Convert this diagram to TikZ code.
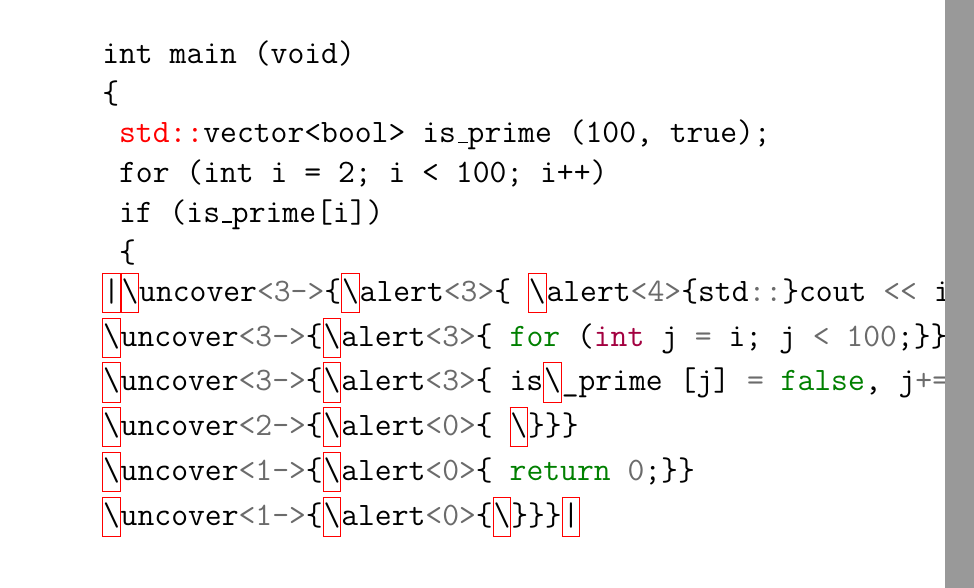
\documentclass[tikz,border=0pt]{standalone}
\definecolor{cgray}{gray}{0.42}
\definecolor{cgreen}{rgb}{0,0.5,0}
\definecolor{cint}{rgb}{0.64,0,0.25}
\definecolor{barg}{gray}{0.6}
\newcommand\bs{\textbackslash}
\newcommand\rb[1]{{\fboxsep=0pt\fboxrule=0.4pt\color{red}\fbox{\color{black}\vrule width0pt height13.8pt depth5.4pt\relax#1}}}
\newcommand\gr[1]{\textcolor{cgray}{#1}}
\newcommand\gn[1]{\textcolor{cgreen}{#1}}
\newcommand\kw[1]{\textcolor{cint}{#1}}
\newcommand\us{\kern0.06em\vrule width0.3em height0.5pt depth0.3pt\relax}
\newlength\cwtest
\begin{document}
\settowidth\cwtest{\fontsize{16pt}{19pt}\ttfamily\selectfont M}%
\pgfmathsetmacro\fsz{16*8.42/\cwtest}%
\newcommand\codefont{\fontsize{\fsz pt}{19pt}\ttfamily\selectfont}%
\begin{tikzpicture}[x=0.5pt,y=-0.5pt,
  codeline/.style={anchor=base west,inner sep=0pt,outer sep=0pt,font=\codefont}]
\fill[white] (0,0) rectangle (974,588);
\useasboundingbox (0,0) rectangle (974,588);
\node[codeline] (l1) at (102.3,63.3) {int main (void)};
\node[codeline] (l2) at (102.3,103.1) {\{};
\node[codeline] (l3) at (102.3,142.9) {\ \textcolor{red}{std::}vector<bool> is\us prime (100, true);};
\node[codeline] (l4) at (102.3,182.7) {\ for (int i = 2; i < 100; i++)};
\node[codeline] (l5) at (102.3,222.5) {\ if (is\us prime[i])};
\node[codeline] (l6) at (102.3,262.3) {\ \{};
\node[codeline] (l7) at (102.3,301.7) {\rb{|}\rb{\bs}uncover\gr{<3->}\{\rb{\bs}alert\gr{<3>}\{ \rb{\bs}alert\gr{<4>}\{std\gr{::}\}cout \gr{<<} i};
\node[codeline] (l8) at (102.3,346.2) {\rb{\bs}uncover\gr{<3->}\{\rb{\bs}alert\gr{<3>}\{ \gn{for} (\kw{int} j \gr{=} i; j \gr{<} \gr{100};\}\}};
\node[codeline] (l9) at (102.3,390.8) {\rb{\bs}uncover\gr{<3->}\{\rb{\bs}alert\gr{<3>}\{ is\rb{\bs}\_prime [j] \gr{=} \gn{false}, j\gr{+=}};
\node[codeline] (l10) at (102.3,435.5) {\rb{\bs}uncover\gr{<2->}\{\rb{\bs}alert\gr{<0>}\{ \rb{\bs}\}\}\}};
\node[codeline] (l11) at (102.3,480.5) {\rb{\bs}uncover\gr{<1->}\{\rb{\bs}alert\gr{<0>}\{ \gn{return} \gr{0};\}\}};
\node[codeline] (l12) at (102.3,525.3) {\rb{\bs}uncover\gr{<1->}\{\rb{\bs}alert\gr{<0>}\{\rb{\bs}\}\}\}\rb{|}};
\fill[barg] (945,0) rectangle (974,588);
\end{tikzpicture}
\end{document}
